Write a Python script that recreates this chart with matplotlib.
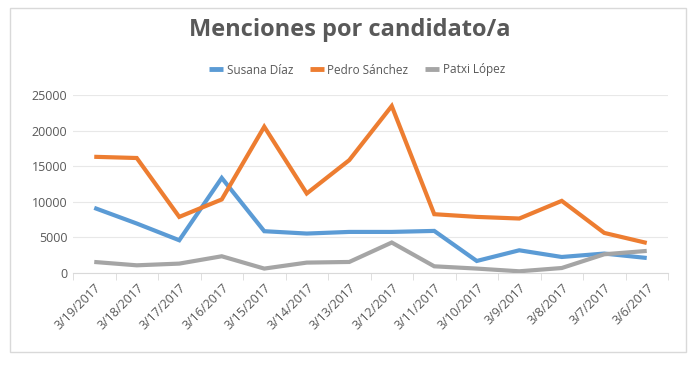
import matplotlib
matplotlib.use("Agg")
import matplotlib.pyplot as plt
from matplotlib.patches import Rectangle

dates = ["3/19/2017", "3/18/2017", "3/17/2017", "3/16/2017", "3/15/2017", "3/14/2017",
         "3/13/2017", "3/12/2017", "3/11/2017", "3/10/2017", "3/9/2017", "3/8/2017",
         "3/7/2017", "3/6/2017"]
susana = [9150, 6950, 4600, 13350, 5870, 5540, 5770, 5770, 5910, 1690, 3190, 2250, 2730, 2110]
pedro = [16320, 16150, 7880, 10330, 20540, 11170, 15850, 23450, 8260, 7880, 7650, 10130, 5630, 4220]
patxi = [1550, 1080, 1320, 2350, 620, 1460, 1550, 4280, 940, 620, 240, 700, 2630, 3100]
series_names = ["Susana Díaz", "Pedro Sánchez", "Patxi López"]
yticks = [0, 5000, 10000, 15000, 20000, 25000]

colors = ["#5B9BD5", "#ED7D31", "#A5A5A5"]
txt = "#595959"
plt.rcParams['font.family'] = ['Open Sans', 'DejaVu Sans']

fig = plt.figure(figsize=(7, 3.65), dpi=100)
fig.patches.append(Rectangle((10/700, 1-352/365), 676/700, 344/365, transform=fig.transFigure,
                             fill=False, edgecolor="#d9d9d9", linewidth=1))
ax = fig.add_axes([73/700, 1-273/365, 595/700, 178/365])
x = list(range(len(dates)))
for vals, name, c in zip([susana, pedro, patxi], series_names, colors):
    ax.plot(x, vals, color=c, linewidth=3, label=name, solid_capstyle='butt', solid_joinstyle='miter')

ax.set_xlim(-0.5, len(dates) - 0.5)
ax.set_ylim(0, 25000)
ax.set_yticks(yticks)
ax.set_yticklabels([str(v) for v in yticks], color=txt, fontsize=9)
ax.set_xticks(x)
ax.set_xticklabels(dates, rotation=45, ha='right', rotation_mode='anchor', color=txt, fontsize=9)
ax.tick_params(axis='x', length=0, pad=6)
ax.set_xticks([i + 0.5 for i in range(-1, len(dates))], minor=True)
ax.tick_params(axis='x', which='minor', length=5, color="#d9d9d9")
ax.tick_params(axis='y', length=0, pad=4)
ax.grid(axis='y', color="#e8e8e8", linewidth=0.8)
ax.set_axisbelow(True)
for s in ['top', 'right', 'left']:
    ax.spines[s].set_visible(False)
ax.spines['bottom'].set_color("#d9d9d9")

fig.text(0.5, 1-30/365, "Menciones por candidato/a", ha='center', va='center',
         fontsize=17, fontweight='bold', color=txt)
leg = fig.legend(loc='center', bbox_to_anchor=(0.51, 1-70/365), ncol=3, frameon=False,
                 fontsize=8.5, handlelength=1.2, columnspacing=1.4, handletextpad=0.3,
                 labelcolor=txt)
for h in leg.get_lines():
    h.set_linewidth(3.5)

fig.savefig("out.png", dpi=100)
